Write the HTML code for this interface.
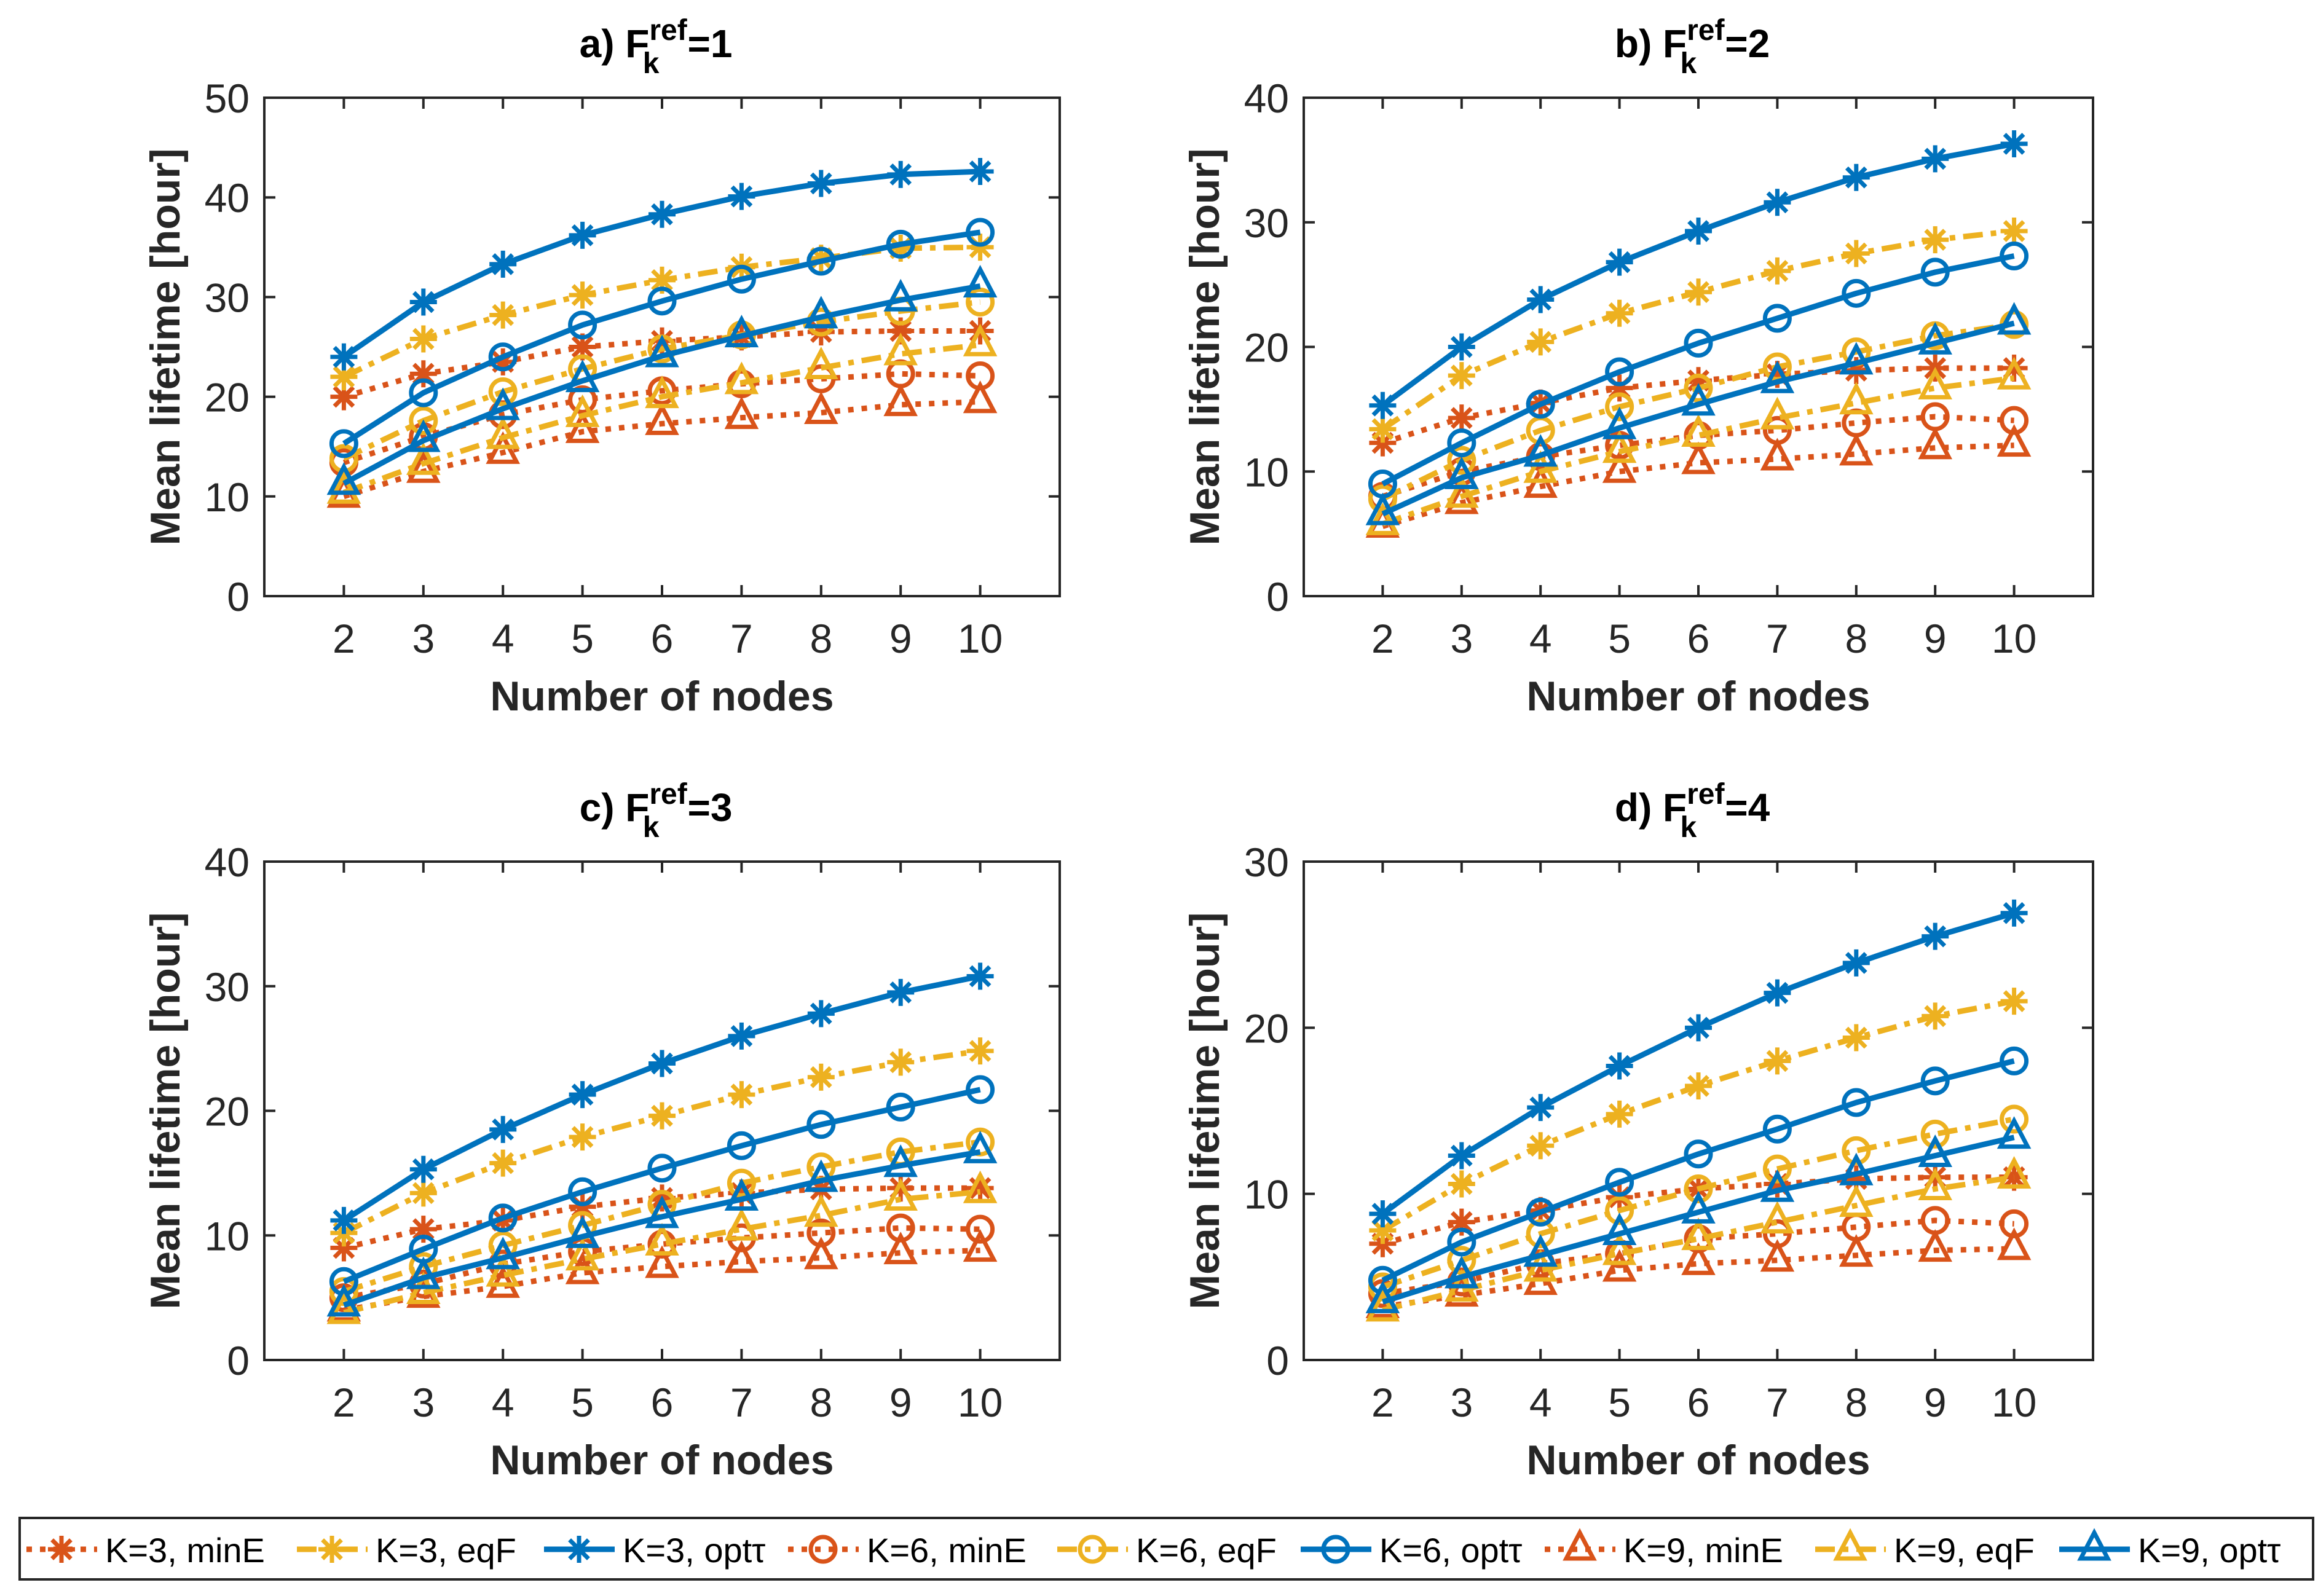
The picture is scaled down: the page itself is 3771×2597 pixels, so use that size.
<!DOCTYPE html>
<html><head><meta charset="utf-8"><style>
html,body{margin:0;padding:0;background:#fff;}
svg{display:block;font-family:"Liberation Sans",sans-serif;}
</style></head><body>
<svg id="fig" width="3771" height="2597" viewBox="0 0 3771 2597" xmlns="http://www.w3.org/2000/svg">
<rect width="3771" height="2597" fill="#fff"/>
</svg>
<script>
const nodes=[2,3,4,5,6,7,8,9,10];
const seriesNames=["K=3, minE","K=3, eqF","K=3, opt\u03c4","K=6, minE","K=6, eqF","K=6, opt\u03c4","K=9, minE","K=9, eqF","K=9, opt\u03c4"];
const panelTitles=["a)","b)","c)","d)"];
const panelRef=["1","2","3","4"];
const yMaxes=[50,40,40,30];
const yTicksA=[0,10,20,30,40,50];
const yTicksB=[0,10,20,30,40];
const yTicksC=[0,10,20,30,40];
const yTicksD=[0,10,20,30];
const dataA=[
[20,22.3,23.5,25,25.6,26,26.5,26.6,26.6],
[22,25.8,28.2,30.2,31.7,33,33.9,34.9,35],
[24,29.5,33.3,36.2,38.3,40.1,41.4,42.3,42.6],
[13.4,16,18.2,19.7,20.6,21.3,21.8,22.3,22.1],
[13.8,17.6,20.5,22.8,24.8,26.2,27.5,28.6,29.5],
[15.3,20.4,24,27.2,29.6,31.8,33.6,35.3,36.5],
[10,12.5,14.4,16.5,17.3,17.9,18.4,19.2,19.5],
[10.4,13.3,15.9,18.1,20,21.4,22.9,24.3,25.2],
[11.3,15.6,18.8,21.6,24.1,26.1,28,29.7,31.1]];
const dataB=[
[12.3,14.3,15.5,16.7,17.3,17.8,18.1,18.3,18.3],
[13.4,17.7,20.4,22.7,24.4,26.1,27.5,28.6,29.3],
[15.3,20,23.8,26.8,29.3,31.6,33.6,35.1,36.3],
[8,10,11.2,12.1,12.9,13.3,13.9,14.4,14.1],
[7.8,10.9,13.3,15.2,16.7,18.4,19.6,20.9,21.8],
[9,12.3,15.4,18,20.3,22.3,24.3,26,27.3],
[5.6,7.5,8.8,10,10.7,11,11.4,11.9,12.1],
[5.8,8,10,11.6,12.9,14.3,15.5,16.7,17.5],
[6.6,9.5,11.3,13.5,15.4,17.2,18.7,20.3,21.9]];
const dataC=[
[9,10.5,11.2,12.3,13,13.4,13.7,13.8,13.8],
[10.2,13.4,15.8,17.9,19.6,21.3,22.7,23.9,24.8],
[11.2,15.3,18.5,21.3,23.8,26,27.8,29.5,30.8],
[5,6.1,7.7,8.7,9.3,9.8,10.2,10.6,10.5],
[5.5,7.5,9.2,10.8,12.5,14.2,15.5,16.7,17.5],
[6.3,8.9,11.4,13.5,15.4,17.2,18.9,20.3,21.7],
[4,5.1,5.9,7,7.5,7.9,8.2,8.6,8.8],
[3.8,5.4,6.8,8.1,9.3,10.5,11.6,12.9,13.5],
[4.4,6.6,8.2,9.9,11.5,12.9,14.4,15.6,16.7]];
const dataD=[
[7,8.3,9,9.8,10.3,10.6,10.9,11,11],
[7.8,10.6,12.9,14.8,16.5,18,19.4,20.7,21.6],
[8.8,12.3,15.2,17.7,20,22.1,23.9,25.5,26.9],
[4,4.7,5.8,6.4,7.3,7.6,8,8.4,8.2],
[4.4,6,7.6,9,10.3,11.5,12.6,13.6,14.5],
[4.8,7.1,8.9,10.7,12.4,13.9,15.5,16.8,18],
[3.2,3.9,4.6,5.4,5.8,6,6.3,6.6,6.7],
[3,4.2,5.4,6.4,7.3,8.3,9.3,10.3,11],
[3.5,5,6.3,7.6,8.9,10.2,11.2,12.3,13.4]];

const NS="http://www.w3.org/2000/svg";
const svg=document.getElementById('fig');
const BLUE="#0072BD",ORANGE="#D95319",YELLOW="#EDB120";
const colors=[ORANGE,YELLOW,BLUE,ORANGE,YELLOW,BLUE,ORANGE,YELLOW,BLUE];
const dashes=["9 13","32 13 9 13",null,"9 13","32 13 9 13",null,"9 13","32 13 9 13",null];
const markers=["star","star","star","circle","circle","circle","tri","tri","tri"];
function mk(tag,attrs,parent){const e=document.createElementNS(NS,tag);for(const k in attrs)e.setAttribute(k,attrs[k]);(parent||svg).appendChild(e);return e;}
function marker(g,type,x,y,c){
  const s=22;
  if(type==="star"){
    const d=`M${x-s},${y}L${x+s},${y}M${x},${y-s}L${x},${y+s}M${x-s*.7},${y-s*.7}L${x+s*.7},${y+s*.7}M${x-s*.7},${y+s*.7}L${x+s*.7},${y-s*.7}`;
    const m=mk('path',{d:d,stroke:c,'stroke-width':7,fill:'none'},g);
    
  }else if(type==="circle"){
    const m=mk('circle',{cx:x,cy:y,r:20,stroke:c,'stroke-width':7,fill:'none'},g);
    
  }else{
    const m=mk('path',{d:`M${x},${y-27}L${x+22},${y+15}L${x-22},${y+15}Z`,stroke:c,'stroke-width':7,fill:'none'},g);
    
  }
}
const panels=[
 {L:430,R:1724,T:159,B:970,data:dataA,ticks:yTicksA},
 {L:2121,R:3405,T:159,B:970,data:dataB,ticks:yTicksB},
 {L:430,R:1724,T:1402,B:2213,data:dataC,ticks:yTicksC},
 {L:2121,R:3405,T:1402,B:2213,data:dataD,ticks:yTicksD}];
panels.forEach((p,pi)=>{
  const g=mk('g',{});
  
  const ymax=yMaxes[pi];
  const xs=v=>p.L+(v-1)/10*(p.R-p.L);
  const ys=v=>p.B-v/ymax*(p.B-p.T);
  const ax=mk('rect',{x:p.L,y:p.T,width:p.R-p.L,height:p.B-p.T,fill:'#fff',stroke:'#262626','stroke-width':4},g);
  
  nodes.forEach(n=>{
    const x=xs(n);
    mk('line',{x1:x,x2:x,y1:p.B,y2:p.B-18,stroke:'#262626','stroke-width':4},g);
    mk('line',{x1:x,x2:x,y1:p.T,y2:p.T+18,stroke:'#262626','stroke-width':4},g);
    const t=mk('text',{x:x,y:p.B+92,'text-anchor':'middle','font-size':66,fill:'#262626'},g);
    t.textContent=n;
  });
  p.ticks.forEach(v=>{
    const y=ys(v);
    mk('line',{x1:p.L,x2:p.L+18,y1:y,y2:y,stroke:'#262626','stroke-width':4},g);
    mk('line',{x1:p.R,x2:p.R-18,y1:y,y2:y,stroke:'#262626','stroke-width':4},g);
    const t=mk('text',{x:p.L-24,y:y+24,'text-anchor':'end','font-size':66,fill:'#262626'},g);
    t.textContent=v;
  });
  p.data.forEach((s,si)=>{
    const sg=mk('g',{},g);
    
    
    const pts=s.map((v,i)=>xs(nodes[i])+','+ys(v)).join(' ');
    const a={points:pts,fill:'none',stroke:colors[si],'stroke-width':9,'stroke-linejoin':'round'};
    if(dashes[si])a['stroke-dasharray']=dashes[si];
    const l=mk('polyline',a,sg);
    
    s.forEach((v,i)=>marker(sg,markers[si],xs(nodes[i]),ys(v),colors[si]));
  });
  const cx=(p.L+p.R)/2;
  const xl=mk('text',{x:cx,y:p.B+186,'text-anchor':'middle','font-size':68,'font-weight':'bold',fill:'#262626'},g);
  xl.textContent='Number of nodes';
  const cy=(p.T+p.B)/2;
  const yx=p.L-138;
  const yl=mk('text',{x:yx,y:cy,'text-anchor':'middle','font-size':68,'font-weight':'bold',fill:'#262626',transform:`rotate(-90 ${yx} ${cy})`},g);
  yl.textContent='Mean lifetime [hour]';
  const tt=mk('text',{x:cx-10,y:p.T-66,'text-anchor':'middle','font-size':64,'font-weight':'bold',fill:'#000'},g);
  
  tt.innerHTML=`${panelTitles[pi]} F<tspan font-size="48" dy="-28">ref</tspan><tspan font-size="48" dx="-72" dy="54">k</tspan><tspan dx="46" dy="-26">=${panelRef[pi]}</tspan>`;
});
// legend
const lg=mk('g',{});

mk('rect',{x:32,y:2470,width:3731,height:100,fill:'#fff',stroke:'#262626','stroke-width':4},lg);
const legX=[43,483,885,1282,1720,2116,2513,2953,3350];
seriesNames.forEach((n,i)=>{
  const eg=mk('g',{},lg);
  
  const x=legX[i],y=2521;
  const a={x1:x,x2:x+115,y1:y,y2:y,stroke:colors[i],'stroke-width':9};
  if(dashes[i])a['stroke-dasharray']=dashes[i];
  mk('line',a,eg);
  marker(eg,markers[i],x+57,y,colors[i]);
  const t=mk('text',{x:x+128,y:y+21,'font-size':56,fill:'#000'},eg);
  t.textContent=n;
});
</script>
</body></html>
